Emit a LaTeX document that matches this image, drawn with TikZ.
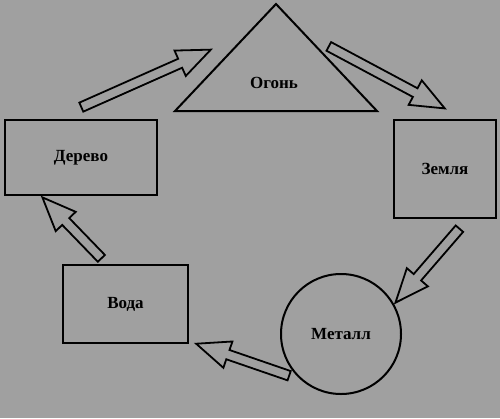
\documentclass[tikz,border=0pt]{standalone}
\usepackage{fontspec}
\setmainfont{Liberation Serif}
\usetikzlibrary{calc,shapes.arrows}
\definecolor{bggray}{RGB}{160,160,160}
\tikzset{
  elemtext/.style={font=\bfseries\fontsize{17}{20}\selectfont},
  element/.style={draw, line width=2.6pt, inner sep=0pt, elemtext},
  flow/.style={single arrow, draw, line width=1.8pt, inner sep=4pt,
    single arrow head extend=9pt, single arrow tip angle=45, anchor=tail},
}
% hollow block arrow from #1 to #2
\newcommand\flowarrow[2]{%
  \path let \p1=($(#2)-(#1)$), \n1={atan2(\y1,\x1)}, \n2={veclen(\x1,\y1)} in
    node[flow, minimum height=\n2, rotate=\n1] at (#1) {};
}
\begin{document}
\begin{tikzpicture}[x=1pt,y=-1pt]
  \fill[bggray] (0,0) rectangle (500,418);
  \useasboundingbox (0,0) rectangle (500,418);

  % elements
  \draw[line width=2pt] (276,4) -- (377,111) -- (175,111) -- cycle;
  \node[elemtext] (fire) at (274,83) {Огонь};
  \node[element, minimum width=102pt, minimum height=98pt] (earth) at (445,169) {Земля};
  \node[element, circle, line width=2pt, minimum size=120pt] (metal) at (341,334) {Металл};
  \node[element, minimum width=125pt, minimum height=78pt] (water) at (125.5,304) {Вода};
  \node[element, minimum width=152pt, minimum height=75pt] (wood) at (81,157.5) {Дерево};

  % arrow ends
  \coordinate (wf1) at (80.5,107.5);  \coordinate (wf2) at (210,50);
  \coordinate (fe1) at (328,46);      \coordinate (fe2) at (444,108);
  \coordinate (em1) at (460,228);     \coordinate (em2) at (396,302);
  \coordinate (mw1) at (290,376);     \coordinate (mw2) at (197,344);
  \coordinate (ww1) at (102,259);     \coordinate (ww2) at (43,198);

  \flowarrow{wf1}{wf2}
  \flowarrow{fe1}{fe2}
  \flowarrow{em1}{em2}
  \flowarrow{mw1}{mw2}
  \flowarrow{ww1}{ww2}
\end{tikzpicture}
\end{document}
